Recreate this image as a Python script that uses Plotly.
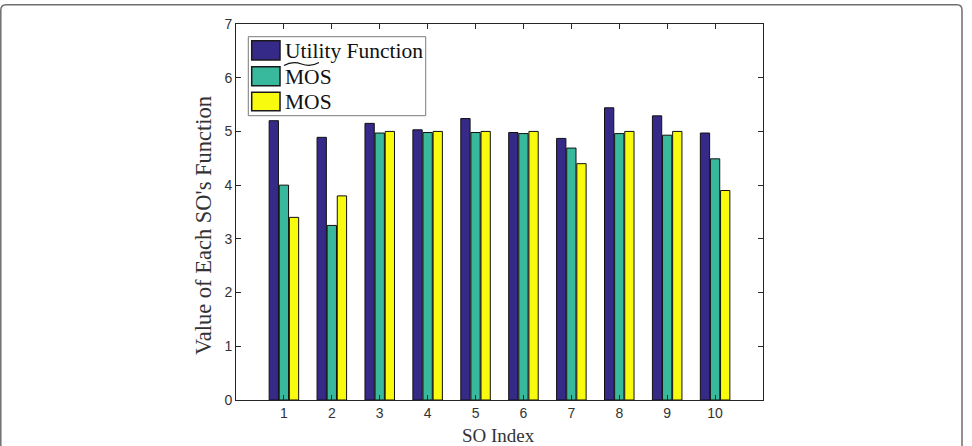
import plotly.graph_objects as go

# ---- data ----
so_index = [1, 2, 3, 4, 5, 6, 7, 8, 9, 10]
utility = [5.20, 4.89, 5.15, 5.03, 5.24, 4.98, 4.87, 5.44, 5.29, 4.97]
mos_tilde = [4.00, 3.25, 4.97, 4.98, 4.98, 4.96, 4.69, 4.96, 4.93, 4.49]
mos = [3.40, 3.80, 5.00, 5.00, 5.00, 5.00, 4.40, 5.00, 5.00, 3.90]
series_names = ["Utility Function", "MOS", "MOS"]
y_ticks = [0, 1, 2, 3, 4, 5, 6, 7]

colors = ["#352A87", "#38B99E", "#F9FB0E"]

W, H = 972, 446
L, R, T, B = 236, 763, 24, 400  # plot area in pixels


def px(x):
    return (x - L) / (R - L)


def py(y):
    return (B - y) / (B - T)


fig = go.Figure()
for vals, name, col in zip([utility, mos_tilde, mos], series_names, colors):
    fig.add_trace(go.Bar(
        x=so_index, y=vals, name=name,
        marker=dict(color=col, line=dict(color="#111111", width=1)),
        showlegend=False,
    ))

fig.update_layout(
    width=W, height=H,
    margin=dict(l=L, r=W - R, t=T, b=H - B),
    paper_bgcolor="white", plot_bgcolor="white",
    barmode="group", bargap=0.367, bargroupgap=0.08,
    font=dict(family="Liberation Sans, Arial, sans-serif", size=14, color="#333333"),
)
fig.update_xaxes(
    range=[0, 11], tickvals=so_index, ticktext=[str(v) for v in so_index],
    ticks="inside", ticklen=5, tickcolor="#262626", tickwidth=1,
    showline=True, linecolor="#262626", linewidth=1, mirror="ticks",
    showgrid=False, zeroline=False,
)
fig.update_yaxes(
    range=[0, 7], tickvals=y_ticks, ticktext=[str(v) for v in y_ticks],
    ticks="inside", ticklen=5, tickcolor="#262626", tickwidth=1,
    showline=True, linecolor="#262626", linewidth=1, mirror="ticks",
    showgrid=False, zeroline=False,
)

serif = "Liberation Serif, Times New Roman, serif"
annotations = [
    dict(text="SO Index", x=px(498.5), y=py(435.5), xref="paper", yref="paper",
         xanchor="center", yanchor="middle", showarrow=False,
         font=dict(family=serif, size=19, color="#333333")),
    dict(text="Value of Each SO's Function", x=px(203), y=py(226), xref="paper", yref="paper",
         xanchor="center", yanchor="middle", showarrow=False, textangle=-90,
         font=dict(family=serif, size=22.5, color="#333333")),
]

shapes = []
# legend box
shapes.append(dict(type="rect", xref="paper", yref="paper",
                   x0=px(248.3), x1=px(425.7), y0=py(115.7), y1=py(36.7),
                   line=dict(color="#7a7a7a", width=1), fillcolor="white", layer="above"))
patch_rows = [(40.7, 60.0), (66.7, 85.7), (92.3, 110.7)]
for (y0, y1), col, name in zip(patch_rows, colors, series_names):
    shapes.append(dict(type="rect", xref="paper", yref="paper",
                       x0=px(251.7), x1=px(280), y0=py(y1), y1=py(y0),
                       line=dict(color="#1a1a1a", width=1.5), fillcolor=col, layer="above"))
    annotations.append(dict(text=name, x=px(283), y=py((y0 + y1) / 2 + 0.5),
                            xref="paper", yref="paper", xanchor="left", yanchor="middle",
                            showarrow=False, font=dict(family=serif, size=21.5, color="#111111")))

# wide tilde over the second "MOS"
pts = [(284, 65.5), (290, 62.0), (296, 62.0), (301.5, 64.0), (307, 66.0), (313, 66.0), (319, 62.5)]
path = "M {:.5f},{:.5f} C {:.5f},{:.5f} {:.5f},{:.5f} {:.5f},{:.5f} C {:.5f},{:.5f} {:.5f},{:.5f} {:.5f},{:.5f}".format(
    *[c for p in pts for c in (px(p[0]), py(p[1]))])
shapes.append(dict(type="path", xref="paper", yref="paper", path=path,
                   line=dict(color="#111111", width=1.2), layer="above"))

# outer rounded frame
frame = "M {},{} L {},{} Q {},{} {},{} L {},{} Q {},{} {},{} L {},{}".format(
    px(0.8), py(446), px(0.8), py(10), px(0.8), py(4.7), px(6), py(4.7),
    px(957), py(4.7), px(962), py(4.7), px(962), py(10), px(962), py(446))
shapes.append(dict(type="path", xref="paper", yref="paper", path=frame,
                   line=dict(color="#6e6e6e", width=1.5), layer="above"))

fig.update_layout(annotations=annotations, shapes=shapes)
fig.write_html("out.html")
